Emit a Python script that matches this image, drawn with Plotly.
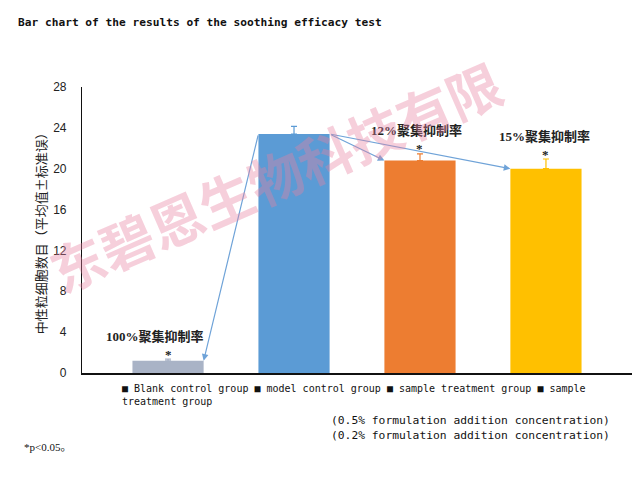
import plotly.graph_objects as go

# ---- data ----
groups = ["Blank control group", "model control group",
          "sample treatment group (0.5%)", "sample treatment group (0.2%)"]
means = [1.2, 23.4, 20.8, 20.0]
errors = [0.15, 0.75, 0.65, 0.95]
bar_colors = ["#A9B3C6", "#5B9BD5", "#ED7D31", "#FFC000"]
inhibition_labels = ["100%聚集抑制率", None, "12%聚集抑制率", "15%聚集抑制率"]
y_ticks = [0, 4, 8, 12, 16, 20, 24, 28]

BAR_W = 0.565
xs = list(range(len(groups)))

# page body has an 8px margin, so the figure is sized to the remaining area
W, H = 634, 479

fig = go.Figure()
for i, g in enumerate(groups):
    fig.add_trace(go.Bar(
        x=[xs[i]], y=[means[i]], width=BAR_W, name=g,
        marker=dict(color=bar_colors[i], line=dict(width=0)),
        error_y=dict(type="data", symmetric=False, array=[errors[i]], arrayminus=[0],
                     color=bar_colors[i], thickness=1.2, width=3),
        showlegend=False,
    ))

label_font = dict(family="Liberation Serif, Noto Sans CJK SC", size=13, color="#222")
shifts = [-13, 0, -3, -1]
for i, lab in enumerate(inhibition_labels):
    if lab is None:
        continue
    top = means[i] + errors[i]
    fig.add_annotation(x=xs[i], y=top, text="<b>" + lab + "</b>", showarrow=False,
                       xshift=shifts[i], yshift=23, font=label_font, borderpad=0)
    fig.add_annotation(x=xs[i], y=top, text="<b>*</b>", showarrow=False,
                       yshift=5, font=dict(family="Liberation Serif", size=13, color="#222"),
                       borderpad=0)

arrow_color = "#6FA3D8"
arrows = [((1 - BAR_W / 2, means[1]), (0 + BAR_W / 2, means[0])),
          ((1 + BAR_W / 2, means[1]), (2 - BAR_W / 2, means[2])),
          ((1 + BAR_W / 2, means[1]), (3 - BAR_W / 2, means[3]))]
for (tx, ty), (hx, hy) in arrows:
    fig.add_annotation(x=hx, y=hy, ax=tx, ay=ty, xref="x", yref="y", axref="x", ayref="y",
                       text="", showarrow=True, arrowhead=2, arrowsize=1.1,
                       arrowwidth=1.2, arrowcolor=arrow_color)

# watermark
fig.add_annotation(xref="paper", yref="paper", x=0.35, y=0.69, text="<b>东碧恩生物科技有限</b>",
                   showarrow=False, textangle=-23.6, xanchor="center", yanchor="middle",
                   font=dict(family="Noto Sans CJK SC", size=54, color="rgba(232,130,160,0.38)"))

# y-axis title
fig.add_annotation(xref="paper", yref="paper", x=-0.076, y=0.5, text="中性粒细胞数目（平均值±标准误）",
                   showarrow=False, textangle=-90, xanchor="center", yanchor="middle",
                   font=dict(family="Noto Sans CJK SC", size=13, color="#222"))

# legend-like text
fig.add_annotation(xref="paper", yref="paper", x=0.069, y=-0.028, xanchor="left", yanchor="top",
                   align="left", showarrow=False,
                   text="■ Blank control group ■ model control group ■ sample treatment group ■ sample<br>treatment group",
                   font=dict(family="DejaVu Sans Mono", size=10, color="#111"))
fig.add_annotation(xref="paper", yref="paper", x=0.9636, y=-0.138, xanchor="right", yanchor="top",
                   align="right", showarrow=False,
                   text="(0.5% formulation addition concentration)<br>(0.2% formulation addition concentration)",
                   font=dict(family="DejaVu Sans Mono", size=11.3, color="#111"))
fig.add_annotation(xref="paper", yref="paper", x=-0.109, y=-0.259, xanchor="left", yanchor="middle",
                   showarrow=False, text="*p<0.05。",
                   font=dict(family="Liberation Serif, Noto Sans CJK SC", size=11, color="#111"))

fig.update_layout(
    width=W, height=H,
    margin=dict(l=74, r=10, t=79, b=114),
    paper_bgcolor="white", plot_bgcolor="white",
    barmode="overlay",
    title=dict(text="<b>Bar chart of the results of the soothing efficacy test</b>",
               xref="container", yref="container", x=10 / W, xanchor="left",
               y=1 - 14 / H, yanchor="middle",
               font=dict(family="DejaVu Sans Mono", size=11.2, color="#111")),
    xaxis=dict(range=[-0.683, 3.683], showticklabels=False, ticks="", showgrid=False,
               zeroline=False, showline=True, linecolor="#111", linewidth=1.5),
    yaxis=dict(range=[0, 28], tickvals=y_ticks, ticks="", showgrid=False, zeroline=False,
               showline=True, linecolor="#111", linewidth=1.2, ticklabelstandoff=12,
               tickfont=dict(family="Liberation Sans", size=12, color="#222")),
)

fig.write_html("out.html")
